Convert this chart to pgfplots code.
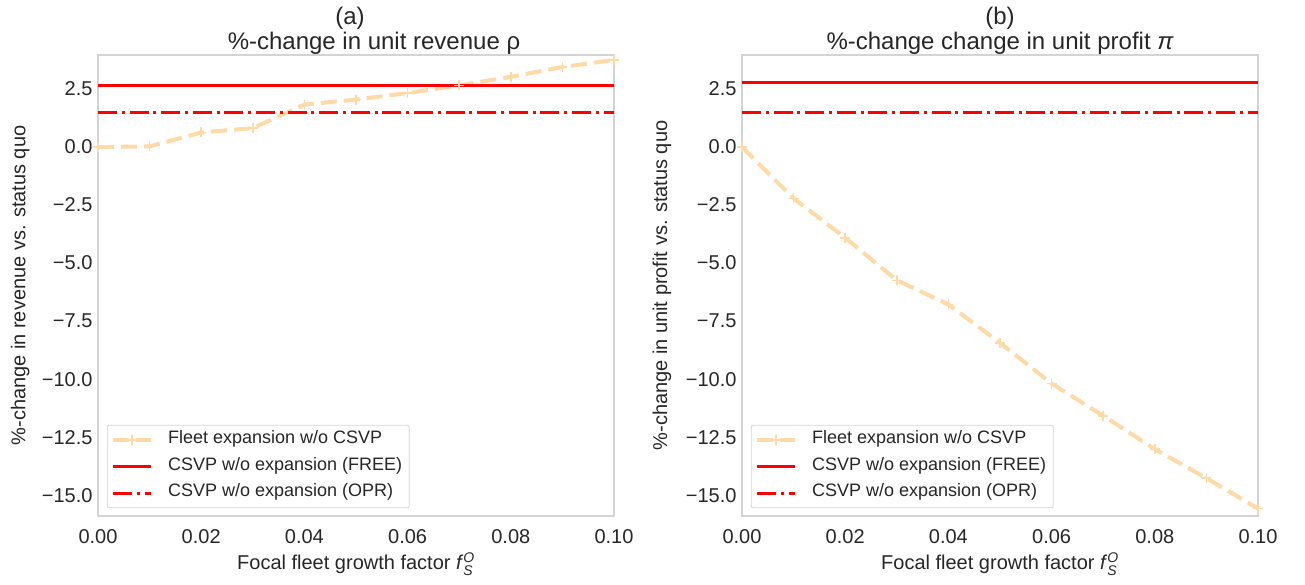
\documentclass[border=0pt]{standalone}
\usepackage{amsmath}
\usepackage{fontspec}
\setmainfont{Liberation Sans}
\usepackage{pgfplots}
\pgfplotsset{compat=1.18}

\definecolor{fleet}{RGB}{254,218,168}
\definecolor{csvp}{RGB}{255,0,0}
\definecolor{txt}{RGB}{38,38,38}
\definecolor{frame}{RGB}{212,212,212}

% values: focal fleet growth factor vs. %-change
\pgfplotstableread{
f      rev    prof
0.00   0.00   0.00
0.01   0.03  -2.21
0.02   0.63  -3.91
0.03   0.82  -5.74
0.04   1.83  -6.78
0.05   2.05  -8.44
0.06   2.33  -10.19
0.07   2.66  -11.58
0.08   3.03  -13.02
0.09   3.45  -14.27
0.10   3.76  -15.58
}\growth

\pgfplotsset{
  panel/.style={
    scale only axis, width=516pt, height=461pt,
    xmin=0, xmax=0.1, ymin=-15.9, ymax=3.97,
    axis line style={draw=frame, line width=1.2pt},
    tick style={draw=none},
    xtick={0,0.02,0.04,0.06,0.08,0.1},
    xticklabels={0.00,0.02,0.04,0.06,0.08,0.10},
    ytick={-15,-12.5,-10,-7.5,-5,-2.5,0,2.5},
    yticklabels={−15.0,−12.5,−10.0,−7.5,−5.0,−2.5,0.0,2.5},
    ticklabel style={font=\fontsize{20pt}{24pt}\selectfont, text=txt},
    yticklabel style={xshift=-2pt},
    xticklabel style={yshift=-10pt},
    label style={font=\fontsize{20pt}{24pt}\selectfont, text=txt},
    xlabel={Focal fleet growth factor \textit{f}$^{\textit{O}}_{\textit{S}}$},
    xlabel style={at={(axis description cs:0.5,-0.104)}, anchor=center},
    ylabel style={at={(axis description cs:-0.151,0.5)}, anchor=center, rotate=0},
    title style={font=\fontsize{24pt}{25pt}\selectfont, text=txt, align=center,
      at={(axis description cs:0.5,1)}, anchor=south, yshift=-9pt},
    legend cell align=left,
    legend style={at={(axis description cs:0.017,0.017)}, anchor=south west,
      draw=frame, rounded corners=2pt, fill=white, line width=0.8pt,
      font=\fontsize{18pt}{21pt}\selectfont, text=txt,
      inner xsep=4pt, inner ysep=1.5pt,
      nodes={text height=12pt, text depth=4.5pt, inner ysep=5pt, inner xsep=3pt},
      column sep=12pt},
  },
  fleetline/.style={color=fleet, line width=4pt, dash pattern=on 16pt off 7pt,
    mark=+, mark size=5pt, mark options={solid, line width=1.5pt}},
  freeline/.style={color=csvp, line width=3pt, no marks},
  oprline/.style={color=csvp, line width=3pt, no marks,
    dash pattern=on 19pt off 4.8pt on 3pt off 4.8pt},
  wide legend/.style={legend image code/.code={%
    \draw[mark repeat=2, mark phase=2] plot coordinates {(0pt,0pt) (19pt,0pt) (38pt,0pt)};}},
}

\begin{document}
\begin{tikzpicture}
\useasboundingbox (-98pt,-68pt) rectangle (1207pt,516pt);

\begin{axis}[panel, at={(0pt,0pt)}, anchor=south west,
  title={(a)\hspace*{12pt}\\\hspace*{36pt}\%-change in unit revenue ρ},
  ylabel={\%-change in revenue vs. status quo}]
  \addplot[fleetline, wide legend] table[x=f, y=rev] {\growth};
  \addlegendentry{Fleet expansion w/o CSVP}
  \addplot[freeline, wide legend] coordinates {(0,2.67) (0.1,2.67)};
  \addlegendentry{CSVP w/o expansion (FREE)}
  \addplot[oprline, wide legend] coordinates {(0,1.48) (0.1,1.48)};
  \addlegendentry{CSVP w/o expansion (OPR)}
\end{axis}

\begin{axis}[panel, at={(644pt,0pt)}, anchor=south west,
  title={(b)\\\%-change change in unit profit {\itshape π}},
  ylabel={\%-change in unit profit vs. status quo},
  ylabel style={at={(axis description cs:-0.155,0.5)}}]
  \addplot[fleetline, wide legend] table[x=f, y=prof] {\growth};
  \addlegendentry{Fleet expansion w/o CSVP}
  \addplot[freeline, wide legend] coordinates {(0,2.77) (0.1,2.77)};
  \addlegendentry{CSVP w/o expansion (FREE)}
  \addplot[oprline, wide legend] coordinates {(0,1.48) (0.1,1.48)};
  \addlegendentry{CSVP w/o expansion (OPR)}
\end{axis}
\end{tikzpicture}
\end{document}
